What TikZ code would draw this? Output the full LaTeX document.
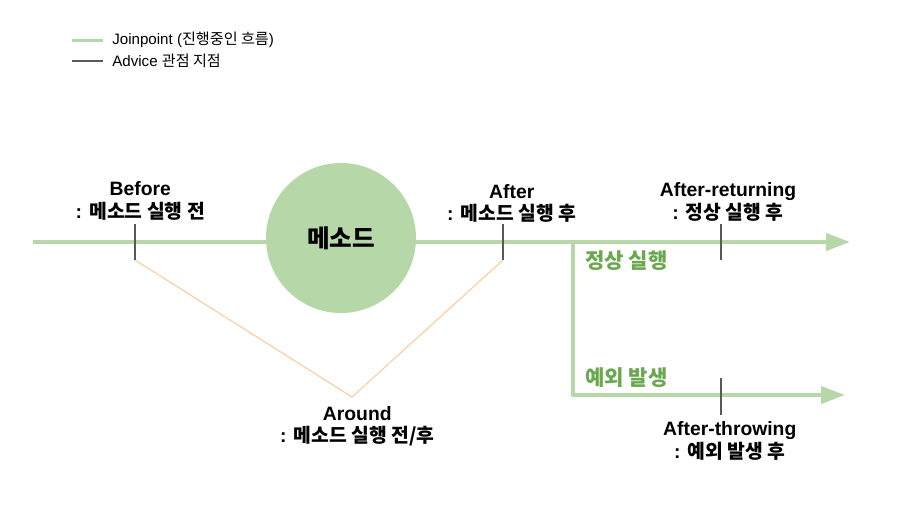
\documentclass[tikz,border=0pt]{standalone}
\usepackage{fontspec}
\setmainfont{Liberation Sans}
\newfontfamily\kr{Noto Sans CJK KR}
\usetikzlibrary{arrows.meta,positioning}

\definecolor{flowgreen}{HTML}{B6D7A8}
\definecolor{labelgreen}{HTML}{6AA84F}
\definecolor{tickgray}{HTML}{595959}
\definecolor{aroundline}{HTML}{F9CB9C}

\tikzset{
  flow/.style={draw=flowgreen,line width=2.3pt},
  flowarrow/.style={flow,-{Triangle[length=0.48cm,width=0.34cm]}},
  tick/.style={draw=tickgray,line width=1.5pt},
  tag/.style={align=center,font=\fontsize{11}{13}\selectfont\bfseries,inner sep=0pt},
  branchtag/.style={font=\fontsize{12}{14}\selectfont\bfseries\kr,text=labelgreen,inner sep=0pt,anchor=west},
  legendtext/.style={font=\fontsize{8.6}{10}\selectfont,inner sep=0pt,anchor=west}
}

\begin{document}
\begin{tikzpicture}[x=0.02cm,y=-0.02cm]
  \useasboundingbox (0,0) rectangle (909,512);

  % legend
  \coordinate (lgA) at (72,40);  \coordinate (lgB) at (103,40);
  \coordinate (lgC) at (72,61);  \coordinate (lgD) at (103,61);
  \draw[draw=flowgreen,line width=1.7pt] (lgA) -- (lgB);
  \draw[draw=tickgray,line width=1.6pt] (lgC) -- (lgD);
  \node[legendtext] (lgjoin) at (112,40) {Joinpoint ({\kr 진행중인 흐름})};
  \node[legendtext] (lgadvice) at (112,61) {Advice {\kr 관점 지점}};

  % joinpoint flow
  \coordinate (start) at (33,242);
  \coordinate (okend) at (850,242);
  \coordinate (split) at (573,241);
  \coordinate (corner) at (573,395);
  \coordinate (failend) at (845,395);
  \draw[flowarrow] (start) -- (okend);
  \draw[flowarrow,line join=round] (split) -- (corner) -- (failend);

  \node[circle,fill=flowgreen,minimum size=3cm,inner sep=0pt,
        font=\fontsize{14}{16}\selectfont\bfseries\kr] (method) at (341,238) {메소드};

  % advice points
  \coordinate (beforeT) at (135,224); \coordinate (beforeB) at (135,260);
  \coordinate (afterT) at (503,224);  \coordinate (afterB) at (503,260);
  \coordinate (returnT) at (721,224); \coordinate (returnB) at (721,260);
  \coordinate (throwT) at (721,378);  \coordinate (throwB) at (721,415);
  \coordinate (around) at (352,397);

  \draw[draw=aroundline,line width=0.6pt] (beforeB) -- (around) -- (afterB);
  \draw[tick] (beforeT) -- (beforeB);
  \draw[tick] (afterT) -- (afterB);
  \draw[tick] (returnT) -- (returnB);
  \draw[tick] (throwT) -- (throwB);

  \node[tag,above=2pt of beforeT,xshift=3pt] (before) {Before\\: {\kr 메소드 실행 전}};
  \node[tag,above=0.5pt of afterT,xshift=5pt] (after) {After\\: {\kr 메소드 실행 후}};
  \node[tag,above=1.5pt of returnT,xshift=4pt] (returning) {After-returning\\: {\kr 정상 실행 후}};
  \node[tag,below=3.5pt of throwB,xshift=5pt] (throwing) {After-throwing\\: {\kr 예외 발생 후}};
  \node[tag,below=5pt of around,xshift=3pt] (aroundtag) {Around\\: {\kr 메소드 실행 전/후}};

  \node[branchtag] (normal) at (585,261) {정상 실행};
  \node[branchtag] (failure) at (585,378) {예외 발생};
\end{tikzpicture}
\end{document}
